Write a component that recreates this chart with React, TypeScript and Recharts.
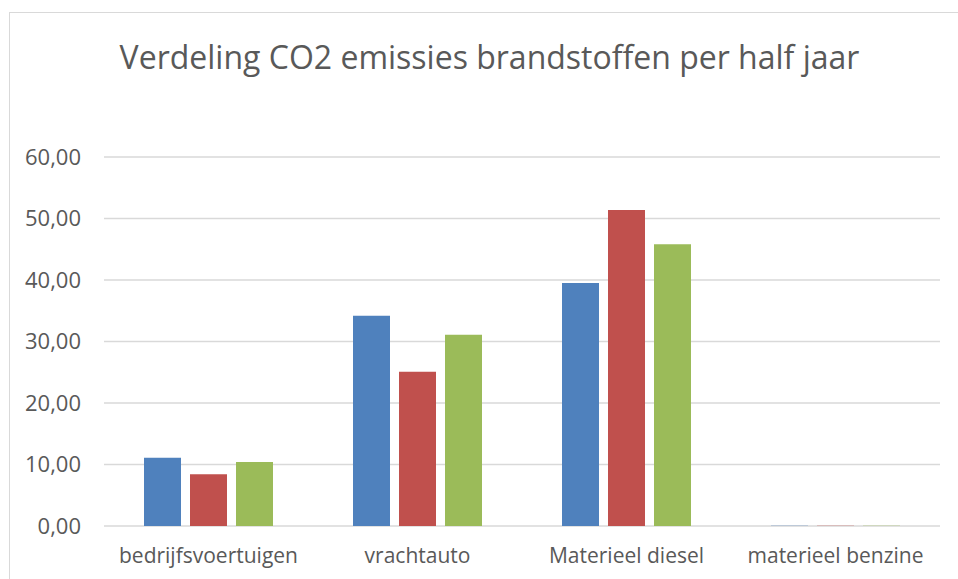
import React from "react";
import { BarChart, Bar, XAxis, YAxis, CartesianGrid } from "recharts";

const categories = ["bedrijfsvoertuigen", "vrachtauto", "Materieel diesel", "materieel benzine"];
const periode1 = [11.1, 34.2, 39.5, 0.06];
const periode2 = [8.4, 25.1, 51.4, 0.06];
const periode3 = [10.4, 31.1, 45.8, 0.05];
const yTicks = [0, 10, 20, 30, 40, 50, 60];

const data = categories.map((name, i) => ({
  name,
  p1: periode1[i],
  p2: periode2[i],
  p3: periode3[i],
}));

const font = "'Open Sans', sans-serif";
const textColor = "#595959";

const fmt = (v: number) => v.toFixed(2).replace(".", ",");

export default function App() {
  return (
    <div
      style={{
        position: "fixed",
        left: 0,
        top: 0,
        width: 958,
        height: 579,
        overflow: "hidden",
        background: "#fff",
        fontFamily: font,
      }}
    >
      {/* chart border, runs off the right and bottom edge */}
      <div
        style={{
          position: "absolute",
          left: 9,
          top: 12,
          width: 1000,
          height: 700,
          border: "1px solid #d9d9d9",
        }}
      />
      <div
        style={{
          position: "absolute",
          left: 0,
          width: 979,
          top: 34,
          textAlign: "center",
          fontSize: 32,
          color: textColor,
          lineHeight: "46px",
        }}
      >
        Verdeling CO2 emissies brandstoffen per half jaar
      </div>
      <div style={{ position: "absolute", left: 0, top: 0 }}>
        <BarChart
          width={958}
          height={579}
          data={data}
          margin={{ top: 157, right: 18, bottom: 0, left: 0 }}
          barSize={37}
          barGap={9}
        >
          <CartesianGrid vertical={false} stroke="#d9d9d9" strokeWidth={1.5} />
          <XAxis
            dataKey="name"
            height={53}
            axisLine={false}
            tickLine={false}
            tickSize={6}
            tickMargin={16}
            tick={{ fill: textColor, fontSize: 21, fontFamily: font }}
          />
          <YAxis
            width={104}
            domain={[0, 60]}
            ticks={yTicks}
            axisLine={false}
            tickLine={false}
            tickSize={6}
            tickMargin={17}
            tickFormatter={fmt}
            tick={{ fill: textColor, fontSize: 22, fontFamily: font }}
          />
          <Bar dataKey="p1" fill="#4F81BD" isAnimationActive={false} />
          <Bar dataKey="p2" fill="#C0504D" isAnimationActive={false} />
          <Bar dataKey="p3" fill="#9BBB59" isAnimationActive={false} />
        </BarChart>
      </div>
    </div>
  );
}
